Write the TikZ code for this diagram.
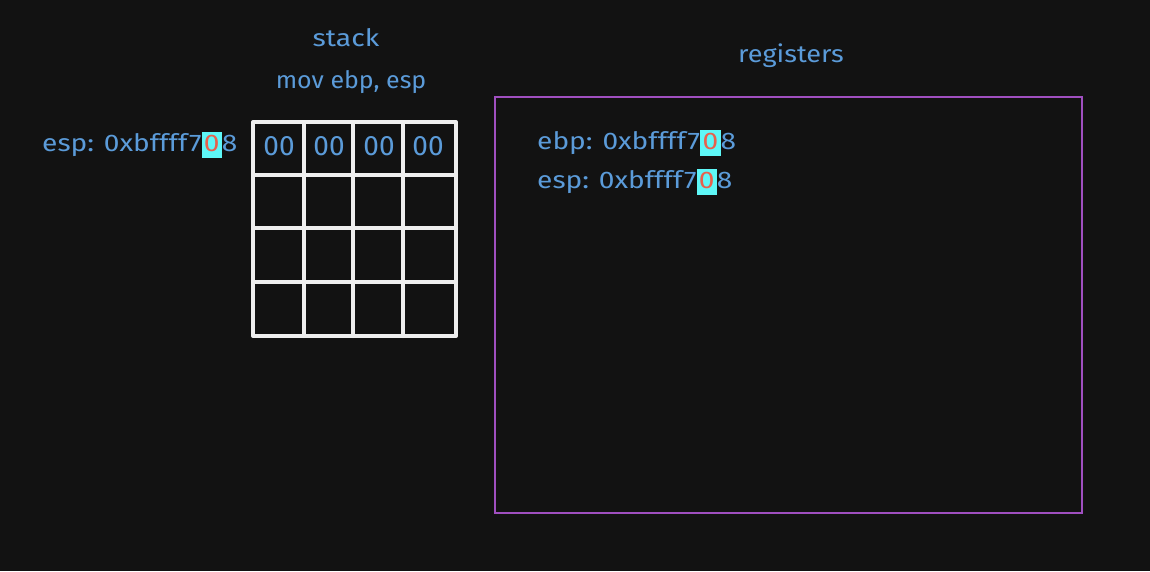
\documentclass[tikz,border=0pt]{standalone}
\usepackage{fontspec}
\setmainfont{Fira Sans}
\definecolor{bgc}{HTML}{121212}
\definecolor{txtblue}{HTML}{5B9BD9}
\definecolor{gridw}{HTML}{EEEEEE}
\definecolor{boxpurple}{HTML}{A04FC0}
\definecolor{hlcyan}{HTML}{5EF7F7}
\definecolor{zred}{HTML}{E8604C}
\newcommand\hlzero[1]{{\setlength\fboxsep{2pt}\colorbox{hlcyan}{\vphantom{Ag}\textcolor{zred}{#1}}}}
\newcommand\wid[2]{\scalebox{#1}[1]{#2}}
\begin{document}
\begin{tikzpicture}[x=1pt,y=-1pt,
  lbl/.style={text=txtblue,font=\fontsize{24}{28}\selectfont,inner sep=0pt},
  cellv/.style={text=txtblue,font=\fontsize{28}{32}\selectfont,inner sep=0pt},
  gridline/.style={draw=gridw,line width=4pt,line join=round,line cap=round},
  regbox/.style={draw=boxpurple,line width=2pt}]
\useasboundingbox[fill=bgc] (0,0) rectangle (1150,571);
% titles
\node[lbl] (tstack) at (346,38) {\wid{1.18}{stack}};
\node[lbl] (tmov) at (351,82) {\wid{1.04}{mov ebp, esp}};
\node[lbl] (treg) at (791,56) {\wid{1.13}{registers}};
% stack grid
\draw[gridline] (253,122) rectangle (456,336);
\foreach \x in {304,353,403} \draw[gridline] (\x,122) -- (\x,336);
\foreach \y in {175,228,282} \draw[gridline] (253,\y) -- (456,\y);
\node[cellv] (c1) at (279,146) {00};
\node[cellv] (c2) at (329,146) {00};
\node[cellv] (c3) at (379,146) {00};
\node[cellv] (c4) at (428,146) {00};
% esp pointer
\node[lbl,anchor=base west] (espptr) at (42,151) {\wid{1.17}{esp: 0xbffff7\hlzero{0}8}};
% registers
\draw[regbox] (495,97) rectangle (1082,513);
\node[lbl,anchor=base west] (ebpreg) at (537,149) {\wid{1.17}{ebp: 0xbffff7\hlzero{0}8}};
\node[lbl,anchor=base west] (espreg) at (537,188) {\wid{1.17}{esp: 0xbffff7\hlzero{0}8}};
\end{tikzpicture}
\end{document}
